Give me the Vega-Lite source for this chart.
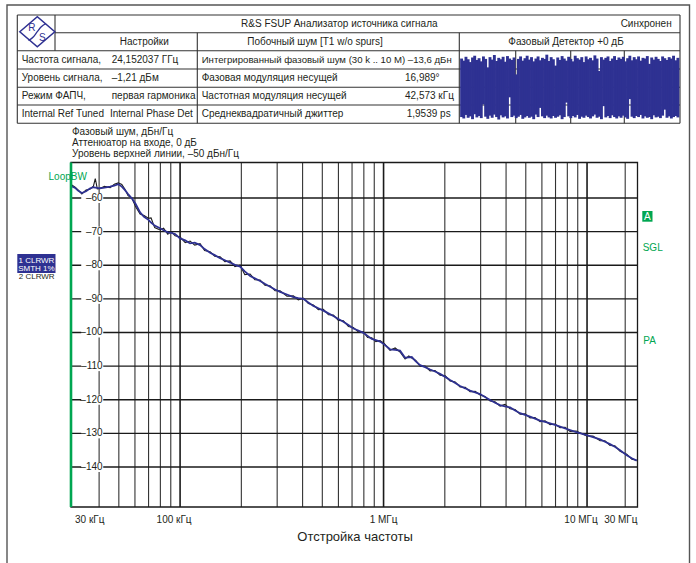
{
  "$schema": "https://vega.github.io/schema/vega-lite/v6.json",
  "width": 696,
  "height": 563,
  "autosize": "none",
  "padding": 0,
  "background": "white",
  "config": {"view": {"stroke": null}, "font": "Liberation Sans", "text": {"font": "Liberation Sans"}},
  "datasets": {
    "tableRules": [
      {"x": 17.3, "x2": 680, "y": 15, "y2": 15},
      {"x": 55, "x2": 680, "y": 32.7, "y2": 32.7},
      {"x": 17.3, "x2": 680, "y": 50.7, "y2": 50.7},
      {"x": 17.3, "x2": 680, "y": 69, "y2": 69},
      {"x": 17.3, "x2": 680, "y": 87.3, "y2": 87.3},
      {"x": 17.3, "x2": 680, "y": 105, "y2": 105},
      {"x": 17.3, "x2": 680, "y": 123.3, "y2": 123.3},
      {"x": 17.3, "x2": 17.3, "y": 15, "y2": 123.3},
      {"x": 55, "x2": 55, "y": 15, "y2": 50.7},
      {"x": 197.3, "x2": 197.3, "y": 32.7, "y2": 123.3},
      {"x": 459.3, "x2": 459.3, "y": 32.7, "y2": 123.3},
      {"x": 515.7, "x2": 515.7, "y": 50.7, "y2": 123.3},
      {"x": 570.7, "x2": 570.7, "y": 50.7, "y2": 123.3},
      {"x": 624.3, "x2": 624.3, "y": 50.7, "y2": 123.3},
      {"x": 680, "x2": 680, "y": 15, "y2": 123.3}
    ],
    "leftTexts": [
      {"x": 21.7, "y": 59.9, "t": "Частота сигнала,"},
      {"x": 111.7, "y": 59.9, "t": "24,152037 ГГц"},
      {"x": 21.7, "y": 78.2, "t": "Уровень сигнала,"},
      {"x": 111.7, "y": 78.2, "t": "–1,21 дБм"},
      {"x": 21.7, "y": 96.2, "t": "Режим ФАПЧ,"},
      {"x": 111.7, "y": 96.2, "t": "первая гармоника"},
      {"x": 21.7, "y": 114.2, "t": "Internal Ref Tuned"},
      {"x": 110, "y": 114.2, "t": "Internal Phase Det"},
      {"x": 201.7, "y": 78.2, "t": "Фазовая модуляция несущей"},
      {"x": 405, "y": 78.2, "t": "16,989°"},
      {"x": 201.7, "y": 96.2, "t": "Частотная модуляция несущей"},
      {"x": 405, "y": 96.2, "t": "42,573 кГц"},
      {"x": 201.7, "y": 114.2, "t": "Среднеквадратичный джиттер"},
      {"x": 406.7, "y": 114.2, "t": "1,9539 ps"},
      {"x": 72, "y": 131.5, "t": "Фазовый шум, дБн/Гц"},
      {"x": 72, "y": 142.5, "t": "Аттенюатор на входе, 0 дБ"},
      {"x": 72, "y": 153.5, "t": "Уровень верхней линии, –50 дБн/Гц"}
    ],
    "longText": [
      {"x": 201.7, "y": 59.9, "t": "Интегрированный фазовый шум (30 k .. 10 M) –13,6 дБн"}
    ],
    "centerTexts": [
      {"x": 339.3, "y": 23.9, "t": "R&S FSUP Анализатор источника сигнала"},
      {"x": 144.3, "y": 41.7, "t": "Настройки"},
      {"x": 315, "y": 41.7, "t": "Побочный шум [T1 w/o spurs]"},
      {"x": 566, "y": 41.7, "t": "Фазовый Детектор +0 дБ"}
    ],
    "rightTexts": [
      {"x": 671.7, "y": 23.9, "t": "Синхронен"}
    ],
    "titleText": [
      {"x": 355, "y": 536.5, "t": "Отстройка частоты"}
    ],
    "greenTexts": [
      {"x": 642.7, "y": 247.5, "t": "SGL"},
      {"x": 643.3, "y": 341, "t": "PA"}
    ],
    "traceWhite": [
      {"x": 36.4, "y": 260.8, "t": "1 CLRWR"},
      {"x": 36.4, "y": 268.8, "t": "SMTH 1%"}
    ],
    "traceGray": [
      {"x": 36.7, "y": 277, "t": "2 CLRWR"}
    ],
    "logoLine": [
      {"x": 28.5, "y": 40.5},
      {"x": 33.5, "y": 36.8},
      {"x": 37.3, "y": 31.7},
      {"x": 41, "y": 27},
      {"x": 46, "y": 23.5}
    ],
    "logoText": [
      {"x": 31.8, "y": 28.3, "t": "R"},
      {"x": 42.3, "y": 37.5, "t": "S"}
    ],
    "noise": [
      {"t":0,"hi":0.80,"lo":-0.86},{"t":1,"hi":0.74,"lo":-0.90},{"t":2,"hi":0.85,"lo":-0.80},{"t":3,"hi":0.78,"lo":-0.88},{"t":4,"hi":0.70,"lo":-0.84},
      {"t":5,"hi":0.83,"lo":-0.92},{"t":6,"hi":0.88,"lo":-0.78},{"t":7,"hi":0.76,"lo":-0.87},{"t":8,"hi":0.81,"lo":-0.83},{"t":9,"hi":0.72,"lo":-0.89},
      {"t":10,"hi":0.86,"lo":-0.50},{"t":11,"hi":0.79,"lo":-0.85},{"t":12,"hi":0.55,"lo":-0.91},{"t":13,"hi":0.84,"lo":-0.82},{"t":14,"hi":0.77,"lo":-0.88},
      {"t":15,"hi":0.90,"lo":-0.79},{"t":16,"hi":0.73,"lo":-0.86},{"t":17,"hi":0.82,"lo":-0.93},{"t":18,"hi":0.78,"lo":-0.81},{"t":19,"hi":0.85,"lo":-0.87},
      {"t":20,"hi":0.71,"lo":-0.84},{"t":21,"hi":0.87,"lo":-0.90},{"t":22,"hi":0.80,"lo":-0.30},{"t":23,"hi":0.76,"lo":-0.86},{"t":24,"hi":0.83,"lo":-0.82},
      {"t":25,"hi":0.35,"lo":-0.89},{"t":26,"hi":0.79,"lo":-0.85},{"t":27,"hi":0.86,"lo":-0.80},{"t":28,"hi":0.74,"lo":-0.91},{"t":29,"hi":0.81,"lo":-0.87},
      {"t":30,"hi":0.88,"lo":-0.83},{"t":31,"hi":0.77,"lo":-0.88},{"t":32,"hi":0.84,"lo":-0.85},{"t":33,"hi":0.72,"lo":-0.92},{"t":34,"hi":0.80,"lo":-0.79},
      {"t":35,"hi":0.86,"lo":-0.86},{"t":36,"hi":0.75,"lo":-0.60},{"t":37,"hi":0.82,"lo":-0.84},{"t":38,"hi":0.79,"lo":-0.89},{"t":39,"hi":0.91,"lo":-0.82},
      {"t":40,"hi":0.73,"lo":-0.87},{"t":41,"hi":0.84,"lo":-0.90},{"t":42,"hi":0.78,"lo":-0.83},{"t":43,"hi":0.60,"lo":-0.88},{"t":44,"hi":0.83,"lo":-0.85},
      {"t":45,"hi":0.76,"lo":-0.81},{"t":46,"hi":0.87,"lo":-0.92},{"t":47,"hi":0.80,"lo":-0.86},{"t":48,"hi":0.74,"lo":-0.45},{"t":49,"hi":0.85,"lo":-0.84},
      {"t":50,"hi":0.79,"lo":-0.89},{"t":51,"hi":0.72,"lo":-0.83},{"t":52,"hi":0.88,"lo":-0.87},{"t":53,"hi":0.81,"lo":-0.80},{"t":54,"hi":0.77,"lo":-0.91},
      {"t":55,"hi":0.84,"lo":-0.85},{"t":56,"hi":0.70,"lo":-0.88},{"t":57,"hi":0.86,"lo":-0.82},{"t":58,"hi":0.78,"lo":-0.86},{"t":59,"hi":0.82,"lo":-0.90},
      {"t":60,"hi":0.75,"lo":-0.84},{"t":61,"hi":0.89,"lo":-0.79},{"t":62,"hi":0.80,"lo":-0.88},{"t":63,"hi":0.45,"lo":-0.85},{"t":64,"hi":0.84,"lo":-0.92},
      {"t":65,"hi":0.77,"lo":-0.55},{"t":66,"hi":0.82,"lo":-0.87},{"t":67,"hi":0.86,"lo":-0.83},{"t":68,"hi":0.73,"lo":-0.89},{"t":69,"hi":0.80,"lo":-0.81},
      {"t":70,"hi":0.87,"lo":-0.86},{"t":71,"hi":0.76,"lo":-0.90},{"t":72,"hi":0.83,"lo":-0.84},{"t":73,"hi":0.79,"lo":-0.88},{"t":74,"hi":0.85,"lo":-0.82},
      {"t":75,"hi":0.72,"lo":-0.87},{"t":76,"hi":0.81,"lo":-0.91},{"t":77,"hi":0.88,"lo":-0.35},{"t":78,"hi":0.75,"lo":-0.85},{"t":79,"hi":0.84,"lo":-0.89},
      {"t":80,"hi":0.78,"lo":-0.83},{"t":81,"hi":0.86,"lo":-0.86},{"t":82,"hi":0.74,"lo":-0.80},{"t":83,"hi":0.82,"lo":-0.90},{"t":84,"hi":0.80,"lo":-0.84},
      {"t":85,"hi":0.87,"lo":-0.88},{"t":86,"hi":0.65,"lo":-0.86},{"t":87,"hi":0.83,"lo":-0.92},{"t":88,"hi":0.77,"lo":-0.81},{"t":89,"hi":0.85,"lo":-0.87},
      {"t":90,"hi":0.79,"lo":-0.85},{"t":91,"hi":0.73,"lo":-0.89},{"t":92,"hi":0.86,"lo":-0.82},{"t":93,"hi":0.81,"lo":-0.65},{"t":94,"hi":0.76,"lo":-0.88},
      {"t":95,"hi":0.84,"lo":-0.84},{"t":96,"hi":0.80,"lo":-0.90},{"t":97,"hi":0.88,"lo":-0.86},{"t":98,"hi":0.75,"lo":-0.83},{"t":99,"hi":0.82,"lo":-0.87}
    ],
    "gridMinor": [
      {"f": 40000}, {"f": 50000}, {"f": 60000}, {"f": 70000}, {"f": 80000}, {"f": 90000},
      {"f": 200000}, {"f": 300000}, {"f": 400000}, {"f": 500000}, {"f": 600000}, {"f": 700000}, {"f": 800000}, {"f": 900000},
      {"f": 2000000}, {"f": 3000000}, {"f": 4000000}, {"f": 5000000}, {"f": 6000000}, {"f": 7000000}, {"f": 8000000}, {"f": 9000000},
      {"f": 15400000}
    ],
    "gridDecade": [{"f": 100000}, {"f": 1000000}, {"f": 10000000}],
    "gridY": [
      {"db": -60, "lab": "–60"}, {"db": -70, "lab": "–70"}, {"db": -80, "lab": "–80"}, {"db": -90, "lab": "–90"},
      {"db": -100, "lab": "–100"}, {"db": -110, "lab": "–110"}, {"db": -120, "lab": "–120"}, {"db": -130, "lab": "–130"}, {"db": -140, "lab": "–140"}
    ],
    "xLabFirst": [{"f": 29100, "lab": "30 кГц"}],
    "xLabShift": [{"f": 100000, "lab": "100 кГц"}, {"f": 10000000, "lab": "10 МГц"}],
    "xLabMid": [{"f": 1000000, "lab": "1 МГц"}],
    "xLabLast": [{"f": 17700000, "lab": "30 МГц"}],
    "curve": [
      {"f": 29100, "smth": -56.4, "raw": -56.0},
      {"f": 30500, "smth": -57.0, "raw": -56.8},
      {"f": 31500, "smth": -57.8, "raw": -57.6},
      {"f": 32900, "smth": -58.5, "raw": -58.8},
      {"f": 34500, "smth": -58.0, "raw": -57.6},
      {"f": 36000, "smth": -57.2, "raw": -57.4},
      {"f": 37500, "smth": -56.8, "raw": -56.5},
      {"f": 38300, "smth": -56.9, "raw": -54.2},
      {"f": 39200, "smth": -57.0, "raw": -57.3},
      {"f": 40400, "smth": -57.1, "raw": -57.2},
      {"f": 42500, "smth": -56.9, "raw": -56.5},
      {"f": 45300, "smth": -56.6, "raw": -56.9},
      {"f": 47500, "smth": -56.3, "raw": -55.9},
      {"f": 49700, "smth": -55.9, "raw": -55.5},
      {"f": 51700, "smth": -56.6, "raw": -56.0},
      {"f": 53500, "smth": -57.6, "raw": -57.3},
      {"f": 55500, "smth": -58.8, "raw": -59.3},
      {"f": 57900, "smth": -60.1, "raw": -60.0},
      {"f": 60500, "smth": -61.8, "raw": -62.6},
      {"f": 63600, "smth": -64.3, "raw": -64.8},
      {"f": 66500, "smth": -65.6, "raw": -65.2},
      {"f": 69900, "smth": -66.5, "raw": -66.0},
      {"f": 72000, "smth": -67.3, "raw": -65.9},
      {"f": 75000, "smth": -68.2, "raw": -68.8},
      {"f": 79700, "smth": -69.0, "raw": -69.5},
      {"f": 83000, "smth": -69.6, "raw": -69.0},
      {"f": 87000, "smth": -70.2, "raw": -70.8},
      {"f": 90500, "smth": -70.4, "raw": -70.0},
      {"f": 94500, "smth": -70.7, "raw": -71.2},
      {"f": 100000, "smth": -72.0, "raw": -71.6},
      {"f": 106000, "smth": -72.6, "raw": -73.3},
      {"f": 112000, "smth": -73.5, "raw": -72.8},
      {"f": 118000, "smth": -73.3, "raw": -74.0},
      {"f": 125400, "smth": -74.0, "raw": -73.6},
      {"f": 132000, "smth": -75.2, "raw": -75.6},
      {"f": 140400, "smth": -76.3, "raw": -76.0},
      {"f": 148000, "smth": -77.0, "raw": -77.3},
      {"f": 157300, "smth": -77.9, "raw": -77.5},
      {"f": 166000, "smth": -78.5, "raw": -78.9},
      {"f": 176100, "smth": -79.2, "raw": -78.7},
      {"f": 186000, "smth": -79.9, "raw": -80.4},
      {"f": 197200, "smth": -80.4, "raw": -80.0},
      {"f": 208000, "smth": -81.8, "raw": -82.8},
      {"f": 220800, "smth": -83.2, "raw": -82.6},
      {"f": 233000, "smth": -83.9, "raw": -84.3},
      {"f": 247300, "smth": -84.7, "raw": -84.4},
      {"f": 262000, "smth": -85.6, "raw": -86.0},
      {"f": 276900, "smth": -86.4, "raw": -86.1},
      {"f": 293000, "smth": -87.2, "raw": -87.6},
      {"f": 310000, "smth": -87.9, "raw": -87.6},
      {"f": 335000, "smth": -88.7, "raw": -89.2},
      {"f": 360400, "smth": -89.5, "raw": -89.1},
      {"f": 381000, "smth": -89.8, "raw": -90.3},
      {"f": 403600, "smth": -90.0, "raw": -89.8},
      {"f": 427000, "smth": -91.1, "raw": -91.4},
      {"f": 451900, "smth": -92.1, "raw": -91.8},
      {"f": 478000, "smth": -92.8, "raw": -93.2},
      {"f": 506100, "smth": -93.5, "raw": -93.1},
      {"f": 536000, "smth": -94.3, "raw": -94.7},
      {"f": 566600, "smth": -95.1, "raw": -94.8},
      {"f": 600000, "smth": -96.0, "raw": -96.4},
      {"f": 634500, "smth": -96.8, "raw": -96.5},
      {"f": 672000, "smth": -97.8, "raw": -98.2},
      {"f": 710500, "smth": -98.8, "raw": -98.5},
      {"f": 752000, "smth": -99.4, "raw": -99.8},
      {"f": 795600, "smth": -100.1, "raw": -99.8},
      {"f": 835000, "smth": -101.0, "raw": -101.5},
      {"f": 875000, "smth": -101.9, "raw": -101.6},
      {"f": 917000, "smth": -102.3, "raw": -102.7},
      {"f": 961000, "smth": -102.7, "raw": -102.4},
      {"f": 1010000, "smth": -103.6, "raw": -103.3},
      {"f": 1076000, "smth": -105.0, "raw": -105.3},
      {"f": 1140000, "smth": -105.2, "raw": -104.6},
      {"f": 1205000, "smth": -105.4, "raw": -105.8},
      {"f": 1276000, "smth": -107.5, "raw": -107.9},
      {"f": 1330000, "smth": -107.4, "raw": -107.0},
      {"f": 1376000, "smth": -107.3, "raw": -107.6},
      {"f": 1440000, "smth": -108.6, "raw": -108.3},
      {"f": 1512000, "smth": -109.7, "raw": -110.0},
      {"f": 1600000, "smth": -110.3, "raw": -110.0},
      {"f": 1693000, "smth": -111.0, "raw": -111.4},
      {"f": 1790000, "smth": -111.6, "raw": -111.3},
      {"f": 1895000, "smth": -112.3, "raw": -112.7},
      {"f": 2010000, "smth": -113.2, "raw": -112.9},
      {"f": 2122000, "smth": -114.1, "raw": -114.4},
      {"f": 2250000, "smth": -115.0, "raw": -114.7},
      {"f": 2376000, "smth": -115.9, "raw": -116.2},
      {"f": 2520000, "smth": -116.6, "raw": -116.3},
      {"f": 2661000, "smth": -117.3, "raw": -117.6},
      {"f": 2820000, "smth": -117.8, "raw": -117.5},
      {"f": 2980000, "smth": -118.3, "raw": -118.6},
      {"f": 3150000, "smth": -119.2, "raw": -119.0},
      {"f": 3338000, "smth": -120.1, "raw": -120.4},
      {"f": 3530000, "smth": -120.9, "raw": -120.6},
      {"f": 3737000, "smth": -121.6, "raw": -121.9},
      {"f": 3950000, "smth": -122.0, "raw": -121.4},
      {"f": 4184000, "smth": -122.3, "raw": -122.7},
      {"f": 4430000, "smth": -123.2, "raw": -122.9},
      {"f": 4686000, "smth": -124.0, "raw": -124.3},
      {"f": 4960000, "smth": -124.5, "raw": -124.2},
      {"f": 5248000, "smth": -125.0, "raw": -125.4},
      {"f": 5550000, "smth": -125.6, "raw": -125.3},
      {"f": 5875000, "smth": -126.2, "raw": -126.5},
      {"f": 6220000, "smth": -126.6, "raw": -126.3},
      {"f": 6580000, "smth": -127.0, "raw": -127.4},
      {"f": 6960000, "smth": -127.5, "raw": -127.2},
      {"f": 7368000, "smth": -128.0, "raw": -128.3},
      {"f": 7800000, "smth": -128.5, "raw": -128.2},
      {"f": 8250000, "smth": -129.0, "raw": -129.4},
      {"f": 8850000, "smth": -129.6, "raw": -129.3},
      {"f": 9966000, "smth": -130.5, "raw": -130.8},
      {"f": 10700000, "smth": -131.1, "raw": -130.8},
      {"f": 11590000, "smth": -131.8, "raw": -132.2},
      {"f": 12250000, "smth": -132.5, "raw": -132.2},
      {"f": 12970000, "smth": -133.2, "raw": -133.6},
      {"f": 13700000, "smth": -134.0, "raw": -133.7},
      {"f": 14530000, "smth": -135.0, "raw": -135.3},
      {"f": 15670000, "smth": -136.5, "raw": -136.2},
      {"f": 16600000, "smth": -137.4, "raw": -137.7},
      {"f": 17550000, "smth": -138.1, "raw": -138.0}
    ]
  },
  "resolve": {"scale": {"x": "independent", "y": "independent"}},
  "layer": [
    {
      "layer": [
        {
          "data": {"values": [{}]},
          "mark": {"type": "rect", "fillOpacity": 0, "stroke": "#555555", "strokeWidth": 1.4},
          "encoding": {
            "x": {"datum": 7, "type": "quantitative", "scale": {"domain": [0, 696], "range": [0, 696], "nice": false, "zero": false}, "axis": null},
            "x2": {"datum": 689.5},
            "y": {"datum": 5, "type": "quantitative", "scale": {"domain": [0, 563], "range": [0, 563], "nice": false, "zero": false}, "axis": null},
            "y2": {"datum": 580}
          }
        },
        {
          "data": {"name": "tableRules"},
          "mark": {"type": "rule", "color": "#333333", "strokeWidth": 1.1},
          "encoding": {
            "x": {"field": "x", "type": "quantitative", "scale": {"domain": [0, 696], "range": [0, 696], "nice": false, "zero": false}, "axis": null},
            "x2": {"field": "x2"},
            "y": {"field": "y", "type": "quantitative", "scale": {"domain": [0, 563], "range": [0, 563], "nice": false, "zero": false}, "axis": null},
            "y2": {"field": "y2"}
          }
        },
        {
          "data": {"values": [{}]},
          "mark": {"type": "point", "shape": "M-1,0L0,-0.857L1,0L0,0.857Z", "size": 1225, "filled": true, "fill": "white", "stroke": "#2E3192", "strokeWidth": 1.5, "opacity": 1},
          "encoding": {
            "x": {"datum": 37.3, "type": "quantitative", "scale": {"domain": [0, 696], "range": [0, 696], "nice": false, "zero": false}, "axis": null},
            "y": {"datum": 31.7, "type": "quantitative", "scale": {"domain": [0, 563], "range": [0, 563], "nice": false, "zero": false}, "axis": null}
          }
        },
        {
          "data": {"name": "logoLine"},
          "mark": {"type": "line", "color": "#2E3192", "strokeWidth": 1.3, "interpolate": "monotone"},
          "encoding": {
            "x": {"field": "x", "type": "quantitative", "scale": {"domain": [0, 696], "range": [0, 696], "nice": false, "zero": false}, "axis": null},
            "y": {"field": "y", "type": "quantitative", "scale": {"domain": [0, 563], "range": [0, 563], "nice": false, "zero": false}, "axis": null}
          }
        },
        {
          "data": {"name": "logoText"},
          "mark": {"type": "text", "color": "#2E3192", "fontSize": 10, "align": "center", "baseline": "middle"},
          "encoding": {
            "x": {"field": "x", "type": "quantitative", "scale": {"domain": [0, 696], "range": [0, 696], "nice": false, "zero": false}, "axis": null},
            "y": {"field": "y", "type": "quantitative", "scale": {"domain": [0, 563], "range": [0, 563], "nice": false, "zero": false}, "axis": null},
            "text": {"field": "t"}
          }
        },
        {
          "data": {"values": [{}]},
          "mark": {"type": "rect", "color": "#2E3192"},
          "encoding": {
            "x": {"datum": 17.3, "type": "quantitative", "scale": {"domain": [0, 696], "range": [0, 696], "nice": false, "zero": false}, "axis": null},
            "x2": {"datum": 55.5},
            "y": {"datum": 254, "type": "quantitative", "scale": {"domain": [0, 563], "range": [0, 563], "nice": false, "zero": false}, "axis": null},
            "y2": {"datum": 273}
          }
        },
        {
          "data": {"values": [{}]},
          "mark": {"type": "rect", "color": "#00A651"},
          "encoding": {
            "x": {"datum": 642.3, "type": "quantitative", "scale": {"domain": [0, 696], "range": [0, 696], "nice": false, "zero": false}, "axis": null},
            "x2": {"datum": 652.5},
            "y": {"datum": 211, "type": "quantitative", "scale": {"domain": [0, 563], "range": [0, 563], "nice": false, "zero": false}, "axis": null},
            "y2": {"datum": 221.7}
          }
        },
        {
          "data": {"values": [{"t": "A"}]},
          "mark": {"type": "text", "color": "white", "fontSize": 10, "align": "center", "baseline": "middle"},
          "encoding": {
            "x": {"datum": 647.4, "type": "quantitative", "scale": {"domain": [0, 696], "range": [0, 696], "nice": false, "zero": false}, "axis": null},
            "y": {"datum": 216.6, "type": "quantitative", "scale": {"domain": [0, 563], "range": [0, 563], "nice": false, "zero": false}, "axis": null},
            "text": {"field": "t"}
          }
        },
        {
          "data": {"name": "leftTexts"},
          "mark": {"type": "text", "color": "#231F20", "fontSize": 10, "align": "left", "baseline": "middle"},
          "encoding": {
            "x": {"field": "x", "type": "quantitative", "scale": {"domain": [0, 696], "range": [0, 696], "nice": false, "zero": false}, "axis": null},
            "y": {"field": "y", "type": "quantitative", "scale": {"domain": [0, 563], "range": [0, 563], "nice": false, "zero": false}, "axis": null},
            "text": {"field": "t"}
          }
        },
        {
          "data": {"name": "longText"},
          "mark": {"type": "text", "color": "#231F20", "fontSize": 9.6, "align": "left", "baseline": "middle"},
          "encoding": {
            "x": {"field": "x", "type": "quantitative", "scale": {"domain": [0, 696], "range": [0, 696], "nice": false, "zero": false}, "axis": null},
            "y": {"field": "y", "type": "quantitative", "scale": {"domain": [0, 563], "range": [0, 563], "nice": false, "zero": false}, "axis": null},
            "text": {"field": "t"}
          }
        },
        {
          "data": {"name": "centerTexts"},
          "mark": {"type": "text", "color": "#231F20", "fontSize": 10, "align": "center", "baseline": "middle"},
          "encoding": {
            "x": {"field": "x", "type": "quantitative", "scale": {"domain": [0, 696], "range": [0, 696], "nice": false, "zero": false}, "axis": null},
            "y": {"field": "y", "type": "quantitative", "scale": {"domain": [0, 563], "range": [0, 563], "nice": false, "zero": false}, "axis": null},
            "text": {"field": "t"}
          }
        },
        {
          "data": {"name": "rightTexts"},
          "mark": {"type": "text", "color": "#231F20", "fontSize": 10, "align": "right", "baseline": "middle"},
          "encoding": {
            "x": {"field": "x", "type": "quantitative", "scale": {"domain": [0, 696], "range": [0, 696], "nice": false, "zero": false}, "axis": null},
            "y": {"field": "y", "type": "quantitative", "scale": {"domain": [0, 563], "range": [0, 563], "nice": false, "zero": false}, "axis": null},
            "text": {"field": "t"}
          }
        },
        {
          "data": {"name": "titleText"},
          "mark": {"type": "text", "color": "#231F20", "fontSize": 13, "align": "center", "baseline": "middle"},
          "encoding": {
            "x": {"field": "x", "type": "quantitative", "scale": {"domain": [0, 696], "range": [0, 696], "nice": false, "zero": false}, "axis": null},
            "y": {"field": "y", "type": "quantitative", "scale": {"domain": [0, 563], "range": [0, 563], "nice": false, "zero": false}, "axis": null},
            "text": {"field": "t"}
          }
        },
        {
          "data": {"name": "greenTexts"},
          "mark": {"type": "text", "color": "#00A651", "fontSize": 10, "align": "left", "baseline": "middle"},
          "encoding": {
            "x": {"field": "x", "type": "quantitative", "scale": {"domain": [0, 696], "range": [0, 696], "nice": false, "zero": false}, "axis": null},
            "y": {"field": "y", "type": "quantitative", "scale": {"domain": [0, 563], "range": [0, 563], "nice": false, "zero": false}, "axis": null},
            "text": {"field": "t"}
          }
        },
        {
          "data": {"values": [{"t": "LoopBW"}]},
          "mark": {"type": "text", "color": "#00A651", "fontSize": 10, "align": "center", "baseline": "middle"},
          "encoding": {
            "x": {"datum": 67.7, "type": "quantitative", "scale": {"domain": [0, 696], "range": [0, 696], "nice": false, "zero": false}, "axis": null},
            "y": {"datum": 176.7, "type": "quantitative", "scale": {"domain": [0, 563], "range": [0, 563], "nice": false, "zero": false}, "axis": null},
            "text": {"field": "t"}
          }
        },
        {
          "data": {"name": "traceWhite"},
          "mark": {"type": "text", "color": "white", "fontSize": 8, "align": "center", "baseline": "middle"},
          "encoding": {
            "x": {"field": "x", "type": "quantitative", "scale": {"domain": [0, 696], "range": [0, 696], "nice": false, "zero": false}, "axis": null},
            "y": {"field": "y", "type": "quantitative", "scale": {"domain": [0, 563], "range": [0, 563], "nice": false, "zero": false}, "axis": null},
            "text": {"field": "t"}
          }
        },
        {
          "data": {"name": "traceGray"},
          "mark": {"type": "text", "color": "#231F20", "fontSize": 8, "align": "center", "baseline": "middle"},
          "encoding": {
            "x": {"field": "x", "type": "quantitative", "scale": {"domain": [0, 696], "range": [0, 696], "nice": false, "zero": false}, "axis": null},
            "y": {"field": "y", "type": "quantitative", "scale": {"domain": [0, 563], "range": [0, 563], "nice": false, "zero": false}, "axis": null},
            "text": {"field": "t"}
          }
        }
      ]
    },
    {
      "data": {"name": "noise"},
      "mark": {"type": "rule", "color": "#2E3192", "strokeWidth": 2.9},
      "encoding": {
        "x": {"field": "t", "type": "quantitative", "scale": {"domain": [-0.5, 99.5], "range": [460.5, 679], "nice": false, "zero": false}, "axis": null},
        "y": {"field": "hi", "type": "quantitative", "scale": {"domain": [-1, 1], "range": [122, 51.5], "nice": false, "zero": false}, "axis": null},
        "y2": {"field": "lo"}
      }
    },
    {
      "layer": [
        {
          "data": {"name": "gridMinor"},
          "mark": {"type": "rule", "color": "#333333", "strokeWidth": 1.1},
          "encoding": {
            "x": {"field": "f", "type": "quantitative", "scale": {"type": "log", "domain": [29100, 17700000], "range": [71, 637.5], "nice": false, "zero": false}, "axis": null},
            "y": {"datum": -49.44, "type": "quantitative", "scale": {"domain": [-151.9, -49.44], "range": [507, 162.5], "nice": false, "zero": false}, "axis": null},
            "y2": {"datum": -151.9}
          }
        },
        {
          "data": {"name": "gridDecade"},
          "mark": {"type": "rule", "color": "#1A1A1A", "strokeWidth": 1.6},
          "encoding": {
            "x": {"field": "f", "type": "quantitative", "scale": {"type": "log", "domain": [29100, 17700000], "range": [71, 637.5], "nice": false, "zero": false}, "axis": null},
            "y": {"datum": -49.44, "type": "quantitative", "scale": {"domain": [-151.9, -49.44], "range": [507, 162.5], "nice": false, "zero": false}, "axis": null},
            "y2": {"datum": -151.9}
          }
        },
        {
          "data": {"name": "gridY"},
          "mark": {"type": "rule", "color": "#1A1A1A", "strokeWidth": 1.3},
          "encoding": {
            "x": {"datum": 29100, "type": "quantitative", "scale": {"type": "log", "domain": [29100, 17700000], "range": [71, 637.5], "nice": false, "zero": false}, "axis": null},
            "x2": {"datum": 17700000},
            "y": {"field": "db", "type": "quantitative", "scale": {"domain": [-151.9, -49.44], "range": [507, 162.5], "nice": false, "zero": false}, "axis": null}
          }
        },
        {
          "data": {"values": [{}]},
          "mark": {"type": "rect", "fillOpacity": 0, "stroke": "#1A1A1A", "strokeWidth": 1.3},
          "encoding": {
            "x": {"datum": 29100, "type": "quantitative", "scale": {"type": "log", "domain": [29100, 17700000], "range": [71, 637.5], "nice": false, "zero": false}, "axis": null},
            "x2": {"datum": 17700000},
            "y": {"datum": -49.44, "type": "quantitative", "scale": {"domain": [-151.9, -49.44], "range": [507, 162.5], "nice": false, "zero": false}, "axis": null},
            "y2": {"datum": -151.9}
          }
        },
        {
          "data": {"name": "gridY"},
          "mark": {"type": "tick", "orient": "horizontal", "color": "white", "opacity": 1, "size": 22, "thickness": 10},
          "encoding": {
            "x": {"datum": 37000, "type": "quantitative", "scale": {"type": "log", "domain": [29100, 17700000], "range": [71, 637.5], "nice": false, "zero": false}, "axis": null},
            "y": {"field": "db", "type": "quantitative", "scale": {"domain": [-151.9, -49.44], "range": [507, 162.5], "nice": false, "zero": false}, "axis": null}
          }
        },
        {
          "data": {"name": "gridY"},
          "mark": {"type": "text", "color": "#231F20", "fontSize": 10, "align": "right", "baseline": "middle"},
          "encoding": {
            "x": {"datum": 41600, "type": "quantitative", "scale": {"type": "log", "domain": [29100, 17700000], "range": [71, 637.5], "nice": false, "zero": false}, "axis": null},
            "y": {"field": "db", "type": "quantitative", "scale": {"domain": [-151.9, -49.44], "range": [507, 162.5], "nice": false, "zero": false}, "axis": null},
            "text": {"field": "lab"}
          }
        },
        {
          "data": {"name": "xLabFirst"},
          "mark": {"type": "text", "color": "#231F20", "fontSize": 10, "align": "left", "baseline": "middle", "dx": 4},
          "encoding": {
            "x": {"field": "f", "type": "quantitative", "scale": {"type": "log", "domain": [29100, 17700000], "range": [71, 637.5], "nice": false, "zero": false}, "axis": null},
            "y": {"datum": -155.8, "type": "quantitative", "scale": {"domain": [-151.9, -49.44], "range": [507, 162.5], "nice": false, "zero": false}, "axis": null},
            "text": {"field": "lab"}
          }
        },
        {
          "data": {"name": "xLabShift"},
          "mark": {"type": "text", "color": "#231F20", "fontSize": 10, "align": "center", "baseline": "middle", "dx": -6},
          "encoding": {
            "x": {"field": "f", "type": "quantitative", "scale": {"type": "log", "domain": [29100, 17700000], "range": [71, 637.5], "nice": false, "zero": false}, "axis": null},
            "y": {"datum": -155.8, "type": "quantitative", "scale": {"domain": [-151.9, -49.44], "range": [507, 162.5], "nice": false, "zero": false}, "axis": null},
            "text": {"field": "lab"}
          }
        },
        {
          "data": {"name": "xLabMid"},
          "mark": {"type": "text", "color": "#231F20", "fontSize": 10, "align": "center", "baseline": "middle"},
          "encoding": {
            "x": {"field": "f", "type": "quantitative", "scale": {"type": "log", "domain": [29100, 17700000], "range": [71, 637.5], "nice": false, "zero": false}, "axis": null},
            "y": {"datum": -155.8, "type": "quantitative", "scale": {"domain": [-151.9, -49.44], "range": [507, 162.5], "nice": false, "zero": false}, "axis": null},
            "text": {"field": "lab"}
          }
        },
        {
          "data": {"name": "xLabLast"},
          "mark": {"type": "text", "color": "#231F20", "fontSize": 10, "align": "right", "baseline": "middle"},
          "encoding": {
            "x": {"field": "f", "type": "quantitative", "scale": {"type": "log", "domain": [29100, 17700000], "range": [71, 637.5], "nice": false, "zero": false}, "axis": null},
            "y": {"datum": -155.8, "type": "quantitative", "scale": {"domain": [-151.9, -49.44], "range": [507, 162.5], "nice": false, "zero": false}, "axis": null},
            "text": {"field": "lab"}
          }
        },
        {
          "data": {"name": "curve"},
          "mark": {"type": "line", "color": "#1C1C1C", "strokeWidth": 1.1},
          "encoding": {
            "x": {"field": "f", "type": "quantitative", "scale": {"type": "log", "domain": [29100, 17700000], "range": [71, 637.5], "nice": false, "zero": false}, "axis": null},
            "y": {"field": "raw", "type": "quantitative", "scale": {"domain": [-151.9, -49.44], "range": [507, 162.5], "nice": false, "zero": false}, "axis": null}
          }
        },
        {
          "data": {"name": "curve"},
          "mark": {"type": "line", "color": "#2E3192", "strokeWidth": 1.8},
          "encoding": {
            "x": {"field": "f", "type": "quantitative", "scale": {"type": "log", "domain": [29100, 17700000], "range": [71, 637.5], "nice": false, "zero": false}, "axis": null},
            "y": {"field": "smth", "type": "quantitative", "scale": {"domain": [-151.9, -49.44], "range": [507, 162.5], "nice": false, "zero": false}, "axis": null}
          }
        },
        {
          "data": {"values": [{}]},
          "mark": {"type": "rule", "color": "#00A651", "strokeWidth": 2.6},
          "encoding": {
            "x": {"datum": 29100, "type": "quantitative", "scale": {"type": "log", "domain": [29100, 17700000], "range": [71, 637.5], "nice": false, "zero": false}, "axis": null},
            "y": {"datum": -49.44, "type": "quantitative", "scale": {"domain": [-151.9, -49.44], "range": [507, 162.5], "nice": false, "zero": false}, "axis": null},
            "y2": {"datum": -151.9}
          }
        }
      ]
    }
  ]
}
